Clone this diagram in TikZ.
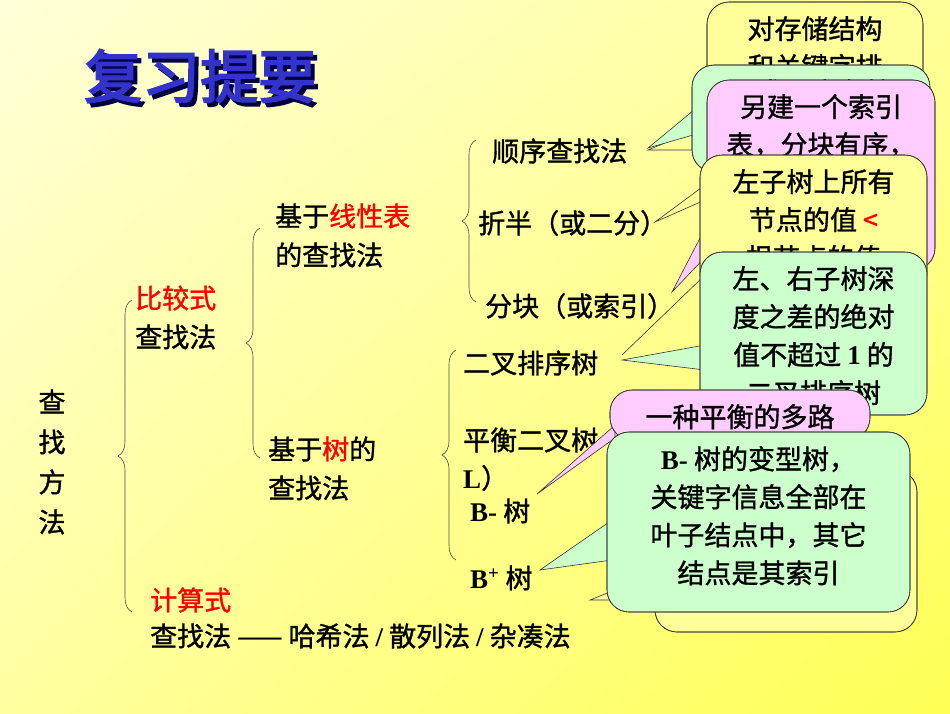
\documentclass[tikz,border=0pt]{standalone}
\usepackage{fontspec}
\setmainfont{Noto Sans CJK SC}[FakeBold=1.2]
\newfontfamily\cjkb[FakeBold=3]{Noto Sans CJK SC}
\newfontfamily\lat{Liberation Serif}[BoldFont={Liberation Serif Bold}]
\usetikzlibrary{decorations.pathreplacing,shadings}
\definecolor{cy}{HTML}{FFFF99}
\definecolor{cg}{HTML}{CCFFCC}
\definecolor{cp}{HTML}{FFCCFF}
\definecolor{ttl}{HTML}{3333CC}
\definecolor{bgul}{HTML}{FFFFD8}
\definecolor{bgur}{HTML}{FFFF99}
\definecolor{bgll}{HTML}{FFFFA0}
\definecolor{bglr}{HTML}{FFFF55}
\tikzset{
 txt/.style={anchor=west,inner sep=0pt,font=\fontsize{27}{40}\selectfont},
 ctxt/.style={anchor=north,inner sep=0pt,align=center,font=\fontsize{27}{38}\selectfont},
 box/.style={draw=black!80,line width=0.6pt,rounded corners=22pt},
 ptr/.style={draw=black!80,line width=0.6pt},
 br/.style={decorate,decoration={brace,amplitude=14pt,mirror},line width=0.6pt,draw=black!70},
}
\newcommand{\callout}[9]{%
 \filldraw[ptr,fill=#1] #6 -- #8 -- #7 -- cycle;
 \filldraw[box,fill=#1] (#2,#3) rectangle (#4,#5);
 \begin{scope}
  \clip[rounded corners=22pt] (#2,#3) rectangle (#4,#5);
  \node[ctxt] at ({(#2+#4)/2},#3+14) {#9};
 \end{scope}
 \draw[box] (#2,#3) rectangle (#4,#5);
}
\begin{document}
\begin{tikzpicture}[x=1pt,y=-1pt]
\shade[upper left=bgul,upper right=bgur,lower left=bgll,lower right=bglr] (0,0) rectangle (950,713);
\useasboundingbox (0,0) rectangle (950,713);
% title
\node[anchor=west,inner sep=0pt,text=black!75!blue,font=\cjkb\fontsize{58}{60}\selectfont] (tsh) at (88,80) {复习提要};
\node[anchor=west,inner sep=0pt,text=ttl,font=\cjkb\fontsize{58}{60}\selectfont] (title) at (84,76) {复习提要};
% left tree
\node[anchor=center,inner sep=0pt,align=center,font=\fontsize{27}{40}\selectfont] (root) at (52,462) {查\\找\\方\\法};
\draw[br] (132,300) -- (132,612);
\node[txt] (bj1) at (135,298) {\textcolor{red}{比较式}};
\node[txt] (bj2) at (135,337) {查找法};
\node[txt] (js1) at (150,600) {\textcolor{red}{计算式}};
\node[txt] (js2) at (150,636) {查找法 —— 哈希法 {\lat\bfseries /} 散列法 {\lat\bfseries /} 杂凑法};
\draw[br] (260,228) -- (260,458);
\node[txt] (xx1) at (275,216) {基于\textcolor{red}{线性表}};
\node[txt] (xx2) at (275,255) {的查找法};
\node[txt] (sh1) at (268,449) {基于\textcolor{red}{树}的};
\node[txt] (sh2) at (268,488) {查找法};
\draw[br] (476,140) -- (476,302);
\node[txt] (sx) at (492,151) {顺序查找法};
\node[txt] (zb) at (478,223) {折半（或二分）};
\node[txt] (fk) at (485,306) {分块（或索引）};
\draw[br] (456,350) -- (456,560);
\node[txt] (ec) at (463,363) {二叉排序树};
\node[txt] (ph) at (463,440) {平衡二叉树（AVL）};
\node[txt] (ph2) at (463,478) {{\lat\bfseries L}）};
\node[txt] (bm) at (470,511) {{\lat\bfseries B-} 树};
\node[txt] (bp) at (470,578) {{\lat\bfseries B\textsuperscript{+}} 树};
% callouts
\callout{cy}{707}{2}{923}{175}{(720,120)}{(720,150)}{(648,150)}{对存储结构\\和关键字排\\序没有要求};
\callout{cg}{692}{65}{930}{172}{(700,105)}{(700,133)}{(648,148)}{要求顺序存储\\且关键字有序};
\callout{cp}{707}{80}{935}{270}{(712,215)}{(712,250)}{(672,292)}{另建一个索引\\表，分块有序，\\块内无序};
\callout{cy}{700}{155}{927}{295}{(705,185)}{(705,200)}{(655,222)}{左子树上所有\\节点的值 \textcolor{red}{<}\\根节点的值};
\draw[ptr] (705,275) -- (622,355);
\callout{cg}{700}{252}{927}{415}{(705,345)}{(705,370)}{(622,360)}{左、右子树深\\度之差的绝对\\值不超过 {\lat\bfseries 1} 的\\二叉排序树};
\callout{cy}{655}{470}{917}{632}{(665,570)}{(665,600)}{(590,600)}{一种映射关系\\由关键字通过\\哈希函数};
\callout{cp}{610}{390}{870}{440}{(615,425)}{(615,438)}{(537,494)}{一种平衡的多路\\查找树};
\callout{cg}{607}{432}{910}{612}{(612,520)}{(612,560)}{(540,570)}{{\lat\bfseries B-} 树的变型树，\\关键字信息全部在\\叶子结点中，其它\\结点是其索引};
\end{tikzpicture}
\end{document}
